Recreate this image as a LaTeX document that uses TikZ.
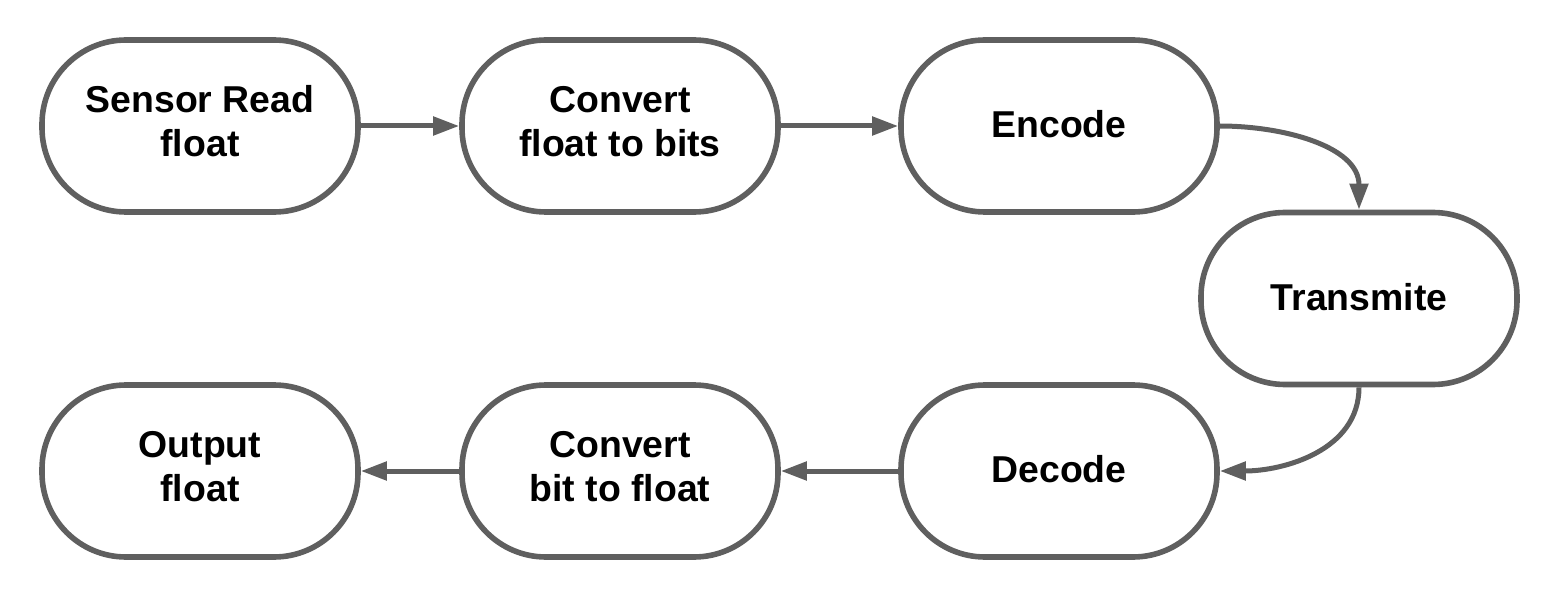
\documentclass[tikz,border=0pt]{standalone}
\usepackage{fontspec}
\setmainfont{Liberation Sans}
\usetikzlibrary{arrows.meta}
\definecolor{edgegray}{HTML}{5F5F5F}
\newcommand{\lowstrut}[1]{\rule[-#1]{0pt}{0pt}}
\tikzset{
  stepbox/.style={draw=edgegray, line width=2.8pt, rounded corners=42pt,
    minimum width=158pt, minimum height=86pt, align=center,
    font=\bfseries\fontsize{18.7pt}{22pt}\selectfont, text=black, inner sep=0pt},
  flow/.style={draw=edgegray, line width=2.5pt,
    -{Triangle[length=13pt,width=9pt]}, edgegray}
}
\begin{document}
\begin{tikzpicture}[x=0.5pt,y=-0.5pt]
\useasboundingbox (0,0) rectangle (1560,599);
\node[stepbox] (n1) at (200,126) {Sensor Read\\float\lowstrut{5pt}};
\node[stepbox] (n2) at (620,126) {Convert\\float to bits\lowstrut{5pt}};
\node[stepbox] (n3) at (1059,126) {Encode\lowstrut{2pt}};
\node[stepbox] (n4) at (1359,298.5) {Transmite\lowstrut{2pt}};
\node[stepbox] (n5) at (1059,471) {Decode\lowstrut{2pt}};
\node[stepbox] (n6) at (620,471) {Convert\\bit to float\lowstrut{5pt}};
\node[stepbox] (n7) at (200,471) {Output\\float\lowstrut{5pt}};
\draw[flow] (n1) -- (n2);
\draw[flow] (n2) -- (n3);
\draw[flow] (n3.east) to[out=0,in=90] (n4.north);
\draw[flow] (n4.south) to[out=-90,in=0] (n5.east);
\draw[flow] (n5) -- (n6);
\draw[flow] (n6) -- (n7);
\end{tikzpicture}
\end{document}
